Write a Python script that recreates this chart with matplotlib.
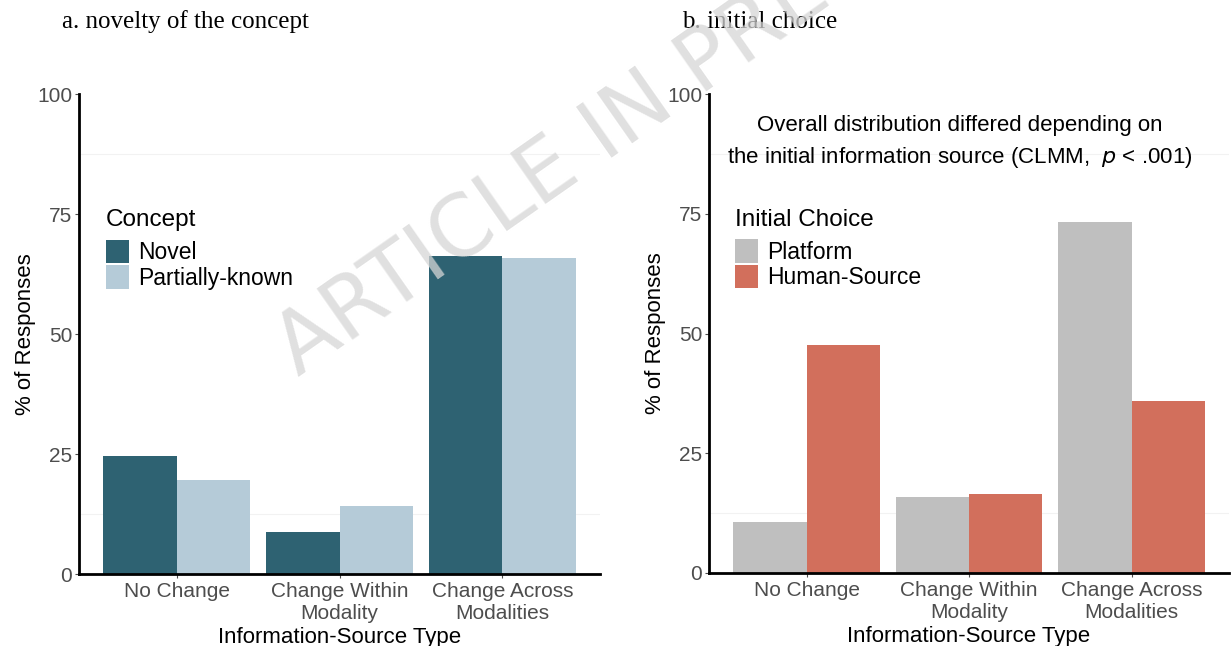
import numpy as np
from matplotlib import pyplot as plt

plt.rcParams['font.family'] = ['Liberation Sans', 'DejaVu Sans']

categories = ["No Change", "Change Within\nModality", "Change Across\nModalities"]

novel = [24.5, 8.8, 66.2]
partial = [19.6, 14.2, 65.8]

platform = [10.6, 15.9, 73.3]
human = [47.7, 16.4, 35.9]

COL_NOVEL, COL_PARTIAL = '#2e6272', '#b5cbd8'
COL_PLAT, COL_HUMAN = '#bfbfbf', '#d26f5c'


def DrawPanel(ax, vals1, vals2, col1, col2, lab1, lab2):
    x = np.arange(len(categories))
    w = 0.45
    b1 = ax.bar(x - w/2, vals1, w, color=col1, label=lab1)
    b2 = ax.bar(x + w/2, vals2, w, color=col2, label=lab2)
    ax.set_xlim(-0.6, 2.6)
    ax.set_ylim(0, 100)
    ax.set_yticks([0, 25, 50, 75, 100])
    ax.set_xticks(x)
    ax.set_xticklabels(categories, fontsize=15, color='#4d4d4d', linespacing=1.15)
    ax.tick_params(axis='y', labelsize=15, labelcolor='#4d4d4d', length=3, color='#4d4d4d', pad=2)
    ax.tick_params(axis='x', length=3, color='#4d4d4d', pad=3)
    for s in ['top', 'right']:
        ax.spines[s].set_visible(False)
    for s in ['left', 'bottom']:
        ax.spines[s].set_linewidth(2)
    for yv in [12.5, 87.5]:
        ax.axhline(yv, color='#f2f2f2', lw=0.8, zorder=0)
    ax.set_xlabel("Information-Source Type", fontsize=16, labelpad=3)
    ax.set_ylabel("% of Responses", fontsize=16, labelpad=1)
    return b1, b2


fig = plt.figure(figsize=(12.31, 6.46), dpi=100)
ax1 = fig.add_axes([79/1231, 72/646, 521/1231, 480/646])
ax2 = fig.add_axes([709/1231, 73/646, 520/1231, 479/646])

DrawPanel(ax1, novel, partial, COL_NOVEL, COL_PARTIAL, "Novel", "Partially-known")
DrawPanel(ax2, platform, human, COL_PLAT, COL_HUMAN, "Platform", "Human-Source")

leg_kw = dict(loc='upper left', frameon=False, fontsize=16.5, title_fontsize=17.5,
              alignment='left', handlelength=1.0, handleheight=1.2, handletextpad=0.4,
              labelspacing=0.05, borderaxespad=0, borderpad=0)
leg1 = ax1.legend(title="Concept", bbox_to_anchor=(0.052, 0.76), **leg_kw)
leg2 = ax2.legend(title="Initial Choice", bbox_to_anchor=(0.05, 0.76), **leg_kw)
for leg in (leg1, leg2):
    leg._legend_box.sep = 6

ax2.text(0.483, 0.935, "Overall distribution differed depending on", transform=ax2.transAxes,
         ha='center', va='center', fontsize=16)
ax2.text(0.483, 0.868, r"the initial information source (CLMM,  $\it{p}$ < .001)",
         transform=ax2.transAxes, ha='center', va='center', fontsize=16)

fig.text(62/1231, 1 - 22/646, "a. novelty of the concept", family='Liberation Serif',
         fontsize=18, va='center', ha='left')
fig.text(682/1231, 1 - 22/646, "b. initial choice", family='Liberation Serif',
         fontsize=18, va='center', ha='left')

# watermark
fig.text(298/1231, 1 - 377/646, "ARTICLE IN PRESS", fontsize=61, color='#d6d6d6',
         alpha=0.75, rotation=35, rotation_mode='anchor', ha='left', va='baseline',
         family='DejaVu Sans', zorder=10)

fig.savefig("out.png", dpi=100)
